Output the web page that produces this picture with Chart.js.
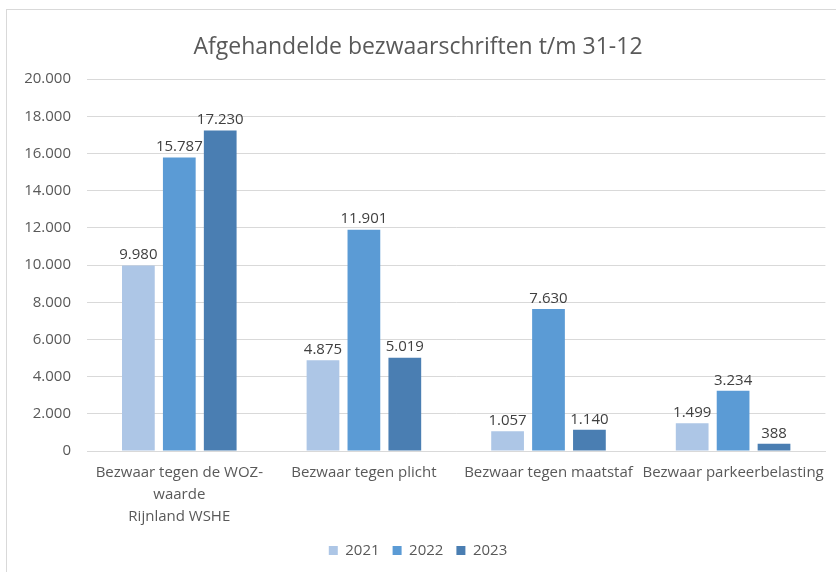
<!DOCTYPE html>
<html>
<head>
<meta charset="utf-8">
<script src="https://cdn.jsdelivr.net/npm/chart.js@4/dist/chart.umd.min.js"></script>
<style>
  html, body { margin: 0; padding: 0; background: #fff; }
  #wrap { position: relative; width: 836px; height: 572px; overflow: hidden; }
  #frame { position: absolute; left: 6px; top: 9px; width: 900px; height: 700px; border-left: 1px solid #D9D9D9; border-top: 1px solid #D9D9D9; box-sizing: border-box; }
  canvas { position: absolute; left: 0; top: 0; }
</style>
</head>
<body>
<div id="wrap">
  <div id="frame"></div>
  <canvas id="c" width="836" height="572"></canvas>
</div>
<script>
const title = 'Afgehandelde bezwaarschriften t/m 31-12';
const categories = [
  ['Bezwaar tegen de WOZ-', 'waarde', 'Rijnland WSHE'],
  'Bezwaar tegen plicht',
  'Bezwaar tegen maatstaf',
  'Bezwaar parkeerbelasting'
];
const seriesNames = ['2021', '2022', '2023'];
const values2021 = [9980, 4875, 1057, 1499];
const values2022 = [15787, 11901, 7630, 3234];
const values2023 = [17230, 5019, 1140, 388];
const yTicks = [0, 2000, 4000, 6000, 8000, 10000, 12000, 14000, 16000, 18000, 20000];

const colors = ['#ADC6E6', '#5B9BD5', '#4A7EB2'];
const FONT = '"Open Sans", "Liberation Sans", sans-serif';
const TXT = '#595959';

function fmt(v) {
  return String(Math.round(v)).replace(/\B(?=(\d{3})+(?!\d))/g, '.');
}

const dataLabels = {
  id: 'dataLabels',
  afterDatasetsDraw(chart) {
    const ctx = chart.ctx;
    ctx.save();
    ctx.font = '15px ' + FONT;
    ctx.fillStyle = '#404040';
    ctx.textAlign = 'center';
    ctx.textBaseline = 'bottom';
    chart.data.datasets.forEach((ds, i) => {
      const meta = chart.getDatasetMeta(i);
      meta.data.forEach((bar, j) => {
        ctx.fillText(fmt(ds.data[j]), bar.x, bar.y - 3);
      });
    });
    ctx.restore();
  }
};

const seriesValues = [values2021, values2022, values2023];

new Chart(document.getElementById('c'), {
  type: 'bar',
  data: {
    labels: categories,
    datasets: seriesNames.map((n, i) => ({
      label: n,
      data: seriesValues[i],
      backgroundColor: colors[i],
      borderWidth: 0,
      categoryPercentage: 0.665,
      barPercentage: 0.8
    }))
  },
  options: {
    responsive: false,
    animation: false,
    devicePixelRatio: 1,
    layout: { padding: { left: 10, right: 10, top: 0, bottom: 4 } },
    plugins: {
      title: {
        display: true,
        text: title,
        color: TXT,
        font: { family: FONT, size: 23, weight: 'normal' },
        padding: { top: 34, bottom: 17.5 }
      },
      legend: {
        position: 'bottom',
        labels: {
          color: TXT,
          font: { family: FONT, size: 15 },
          boxWidth: 9,
          boxHeight: 9,
          padding: 13
        }
      },
      tooltip: { enabled: false }
    },
    scales: {
      y: {
        min: 0,
        max: 20000,
        afterBuildTicks(scale) { scale.ticks = yTicks.map(v => ({ value: v })); },
        afterFit(scale) { scale.width = 77; },
        ticks: {
          color: TXT,
          font: { family: FONT, size: 15 },
          padding: 16,
          callback: v => fmt(v)
        },
        grid: { color: '#D9D9D9', lineWidth: 1, drawTicks: false },
        border: { display: false }
      },
      x: {
        afterFit(scale) { scale.height = 79; },
        ticks: {
          color: TXT,
          font: { family: FONT, size: 15, lineHeight: 1.45 },
          maxRotation: 0,
          autoSkip: false,
          padding: 11
        },
        grid: { display: false, drawTicks: false },
        border: { display: true, color: '#D9D9D9', width: 1 }
      }
    }
  },
  plugins: [dataLabels]
});
</script>
</body>
</html>
